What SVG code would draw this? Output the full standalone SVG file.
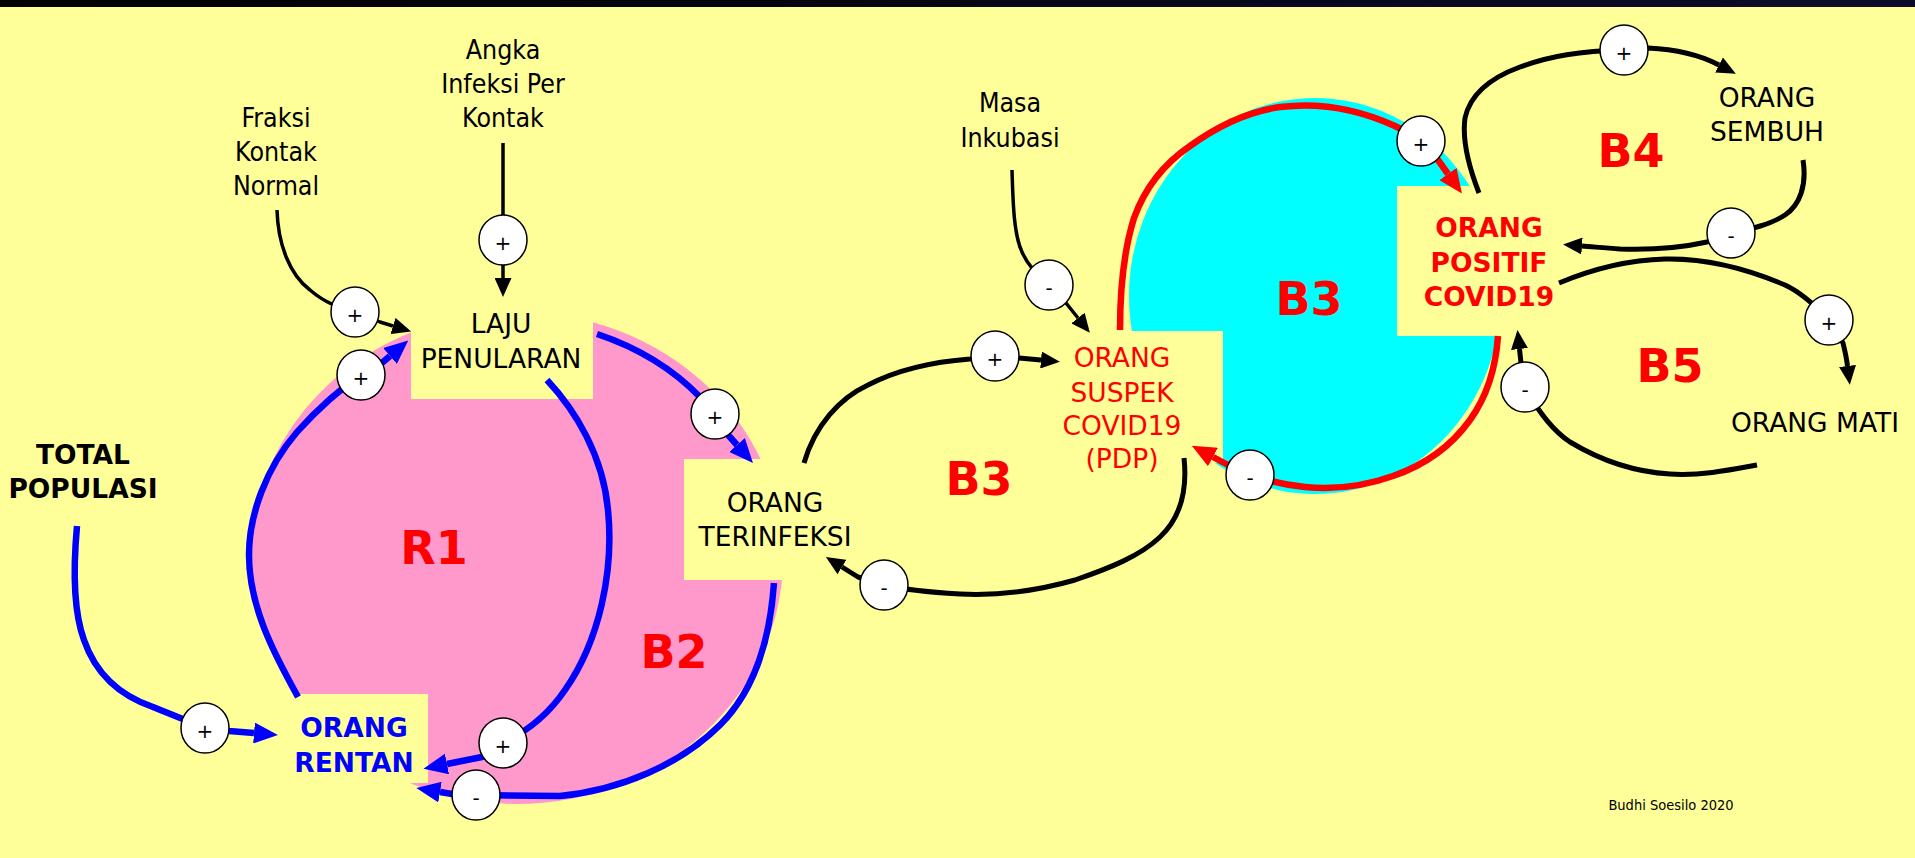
<svg xmlns="http://www.w3.org/2000/svg" width="1915" height="858" viewBox="0 0 1915 858">
<defs>
<style>
text{font-family:"DejaVu Sans","Noto Sans",sans-serif;text-anchor:middle}
.n{font-size:26.5px;fill:#000}
.nc{font-family:"DejaVu Sans Condensed","DejaVu Sans",sans-serif}
.b{font-weight:bold}
.red{fill:#f00}
.blue{fill:#00f}
.loop{font-size:46px;font-weight:bold;fill:#f00}
.sg{font-size:20px;fill:#000}
.c{fill:none;stroke-linejoin:round}
.k{stroke:#000;stroke-width:5}
.kt{stroke:#000;stroke-width:3.5}
.bl{stroke:#00f;stroke-width:6.5}
.rd{stroke:#f00;stroke-width:6.5}
.pol{fill:#fff;stroke:#000;stroke-width:1.5}
.box{fill:#ffff99}
</style>
<linearGradient id="bar" x1="0" x2="1" y1="0" y2="0"><stop offset="0" stop-color="#000"/><stop offset="1" stop-color="#0c0c2a"/></linearGradient>
<marker id="ak" markerUnits="userSpaceOnUse" markerWidth="19" markerHeight="17" refX="0" refY="8.5" orient="auto"><path d="M0,0 L19,8.5 L0,17 z" fill="#000"/></marker>
<marker id="ab" markerUnits="userSpaceOnUse" markerWidth="24" markerHeight="21" refX="0" refY="10.5" orient="auto"><path d="M0,0 L24,10.5 L0,21 z" fill="#00f"/></marker>
<marker id="ar" markerUnits="userSpaceOnUse" markerWidth="24" markerHeight="21" refX="0" refY="10.5" orient="auto"><path d="M0,0 L24,10.5 L0,21 z" fill="#f00"/></marker>
</defs>
<rect x="0" y="0" width="1915" height="858" fill="#ffff99"/>
<rect x="0" y="0" width="1915" height="7" fill="url(#bar)"/>
<g id="loop-areas">
<ellipse cx="517" cy="558" rx="266" ry="246" fill="#ff99cc"/>
<ellipse cx="1315" cy="296" rx="186" ry="198" fill="#00ffff"/>
</g>
<g id="node-laju"><rect class="box" x="411" y="300" width="182" height="99"/><text class="n" x="501" y="333">LAJU</text><text class="n" x="501" y="368">PENULARAN</text></g>
<g id="node-rentan"><rect class="box" x="296" y="694" width="132" height="89"/><text class="n b blue" x="354" y="737">ORANG</text><text class="n b blue" x="354" y="772">RENTAN</text></g>
<g id="node-terinfeksi"><rect class="box" x="684" y="459" width="111" height="121"/><text class="n" x="775" y="512">ORANG</text><text class="n" x="775" y="546">TERINFEKSI</text></g>
<g id="node-suspek"><rect class="box" x="1058" y="331" width="165" height="132"/><text class="n red" x="1122" y="367">ORANG</text><text class="n red" x="1122" y="402">SUSPEK</text><text class="n red" x="1122" y="435">COVID19</text><text class="n red" x="1122" y="468">(PDP)</text></g>
<g id="node-positif"><rect class="box" x="1397" y="186" width="165" height="150"/><text class="n b red" x="1489" y="237">ORANG</text><text class="n b red" x="1489" y="272">POSITIF</text><text class="n b red" x="1489" y="306">COVID19</text></g>
<g id="node-total"><text class="n b" x="83" y="464">TOTAL</text><text class="n b" x="83" y="498">POPULASI</text></g>
<g id="node-fraksi"><text class="n nc" x="276" y="127">Fraksi</text><text class="n nc" x="276" y="161">Kontak</text><text class="n nc" x="276" y="195">Normal</text></g>
<g id="node-angka"><text class="n nc" x="503" y="59">Angka</text><text class="n nc" x="503" y="93">Infeksi Per</text><text class="n nc" x="503" y="127">Kontak</text></g>
<g id="node-masa"><text class="n nc" x="1010" y="112">Masa</text><text class="n nc" x="1010" y="147">Inkubasi</text></g>
<g id="node-sembuh"><text class="n" x="1767" y="107">ORANG</text><text class="n" x="1767" y="141">SEMBUH</text></g>
<g id="node-mati"><text class="n" x="1815" y="432">ORANG MATI</text></g>
<g id="connectors">
<path class="c kt" d="M503,143 L503,278" marker-end="url(#ak)"/>
<path class="c kt" d="M277,210 C278,245 290,275 310,290 C325,303 340,308 355,312 L380,322 L393,326" marker-end="url(#ak)"/>
<path class="c bl" d="M77,526 C73,570 73,610 84,640 C95,672 118,695 153,707 L205,728 L229,731 L254,733" marker-end="url(#ab)"/>
<path class="c bl" d="M298,697 C272,650 249,605 249,555 C249,515 266,468 297,432 C315,412 337,391 361,375 L383,362 L390,356" marker-end="url(#ab)"/>
<path class="c bl" d="M547,380 C575,410 603,455 608,510 C614,570 600,640 565,690 C550,712 530,730 503,743 L482,757 L447,764" marker-end="url(#ab)"/>
<path class="c bl" d="M597,334 C630,345 668,364 700,397 L715,415 L729,436 L737,445" marker-end="url(#ab)"/>
<path class="c bl" d="M774,583 C770,640 755,690 720,725 C680,765 620,790 560,796 L476,795 L452,794 L440,792" marker-end="url(#ab)"/>
<path class="c k" d="M804,463 C815,425 840,398 868,385 C895,371 930,362 970,359 L995,356 L1019,358 L1041,360" marker-end="url(#ak)"/>
<path class="c k" d="M1184,458 C1188,495 1178,520 1160,537 C1140,556 1110,568 1075,580 C1040,590 1000,596 960,594 C925,592 905,590 884,585 L858,577 L842,567" marker-end="url(#ak)"/>
<path class="c kt" d="M1012,170 C1013,205 1014,235 1022,252 C1028,266 1038,276 1049,285 L1066,303 L1078,318" marker-end="url(#ak)"/>
<path class="c rd" d="M1120,330 C1120,290 1124,250 1134,218 C1146,185 1165,163 1190,146 C1215,128 1245,112 1280,107 C1320,102 1360,110 1395,126 C1405,131 1413,135 1421,140 L1438,160 L1448,174" marker-end="url(#ar)"/>
<path class="c rd" d="M1498,336 C1496,365 1488,395 1470,420 C1452,445 1425,465 1393,476 C1365,486 1335,490 1305,487 C1285,485 1265,480 1250,475 L1228,465 L1213,457" marker-end="url(#ar)"/>
<path class="c k" d="M1479,193 C1470,170 1462,140 1465,118 C1470,95 1490,78 1520,67 C1550,56 1580,51 1624,50 L1648,48 C1670,49 1698,54 1719,65" marker-end="url(#ak)"/>
<path class="c k" d="M1803,160 C1807,185 1800,205 1785,215 C1770,225 1750,229 1731,233 L1707,242 C1680,248 1650,250 1620,249 C1605,248 1595,247 1582,246" marker-end="url(#ak)"/>
<path class="c k" d="M1559,283 C1590,270 1625,260 1665,259 C1710,258 1750,270 1785,285 C1800,292 1815,305 1829,320 L1843,343 C1846,355 1847,362 1847.5,366" marker-end="url(#ak)"/>
<path class="c k" d="M1757,465 C1730,470 1700,476 1670,474 C1635,472 1600,460 1570,442 C1555,432 1540,415 1525,387 L1521,363 L1519.5,349" marker-end="url(#ak)"/>
<g id="polarity">
<ellipse class="pol" cx="503" cy="240" rx="24" ry="25"/><text class="sg" x="503" y="250">+</text>
<ellipse class="pol" cx="355" cy="312" rx="24" ry="25"/><text class="sg" x="355" y="322">+</text>
<ellipse class="pol" cx="361" cy="375" rx="24" ry="25"/><text class="sg" x="361" y="385">+</text>
<ellipse class="pol" cx="205" cy="728" rx="24" ry="25"/><text class="sg" x="205" y="738">+</text>
<ellipse class="pol" cx="503" cy="743" rx="24" ry="25"/><text class="sg" x="503" y="753">+</text>
<ellipse class="pol" cx="476" cy="795" rx="24" ry="25"/><text class="sg" x="476" y="805">-</text>
<ellipse class="pol" cx="715" cy="414" rx="24" ry="25"/><text class="sg" x="715" y="424">+</text>
<ellipse class="pol" cx="995" cy="356" rx="24" ry="25"/><text class="sg" x="995" y="366">+</text>
<ellipse class="pol" cx="884" cy="585" rx="24" ry="25"/><text class="sg" x="884" y="595">-</text>
<ellipse class="pol" cx="1049" cy="285" rx="24" ry="25"/><text class="sg" x="1049" y="295">-</text>
<ellipse class="pol" cx="1421" cy="141" rx="24" ry="25"/><text class="sg" x="1421" y="151">+</text>
<ellipse class="pol" cx="1250" cy="475" rx="24" ry="25"/><text class="sg" x="1250" y="485">-</text>
<ellipse class="pol" cx="1624" cy="50" rx="24" ry="25"/><text class="sg" x="1624" y="60">+</text>
<ellipse class="pol" cx="1731" cy="233" rx="24" ry="25"/><text class="sg" x="1731" y="243">-</text>
<ellipse class="pol" cx="1829" cy="320" rx="24" ry="25"/><text class="sg" x="1829" y="330">+</text>
<ellipse class="pol" cx="1525" cy="387" rx="24" ry="25"/><text class="sg" x="1525" y="397">-</text>
</g>
</g>
<g id="loop-labels">
<text class="loop" x="434" y="564">R1</text>
<text class="loop" x="674" y="668">B2</text>
<text class="loop" x="979" y="495">B3</text>
<text class="loop" x="1309" y="315">B3</text>
<text class="loop" x="1631" y="167">B4</text>
<text class="loop" x="1670" y="382">B5</text>
</g>
<text class="nc" x="1671" y="810" style="font-size:14.5px;fill:#000">Budhi Soesilo 2020</text>
</svg>
